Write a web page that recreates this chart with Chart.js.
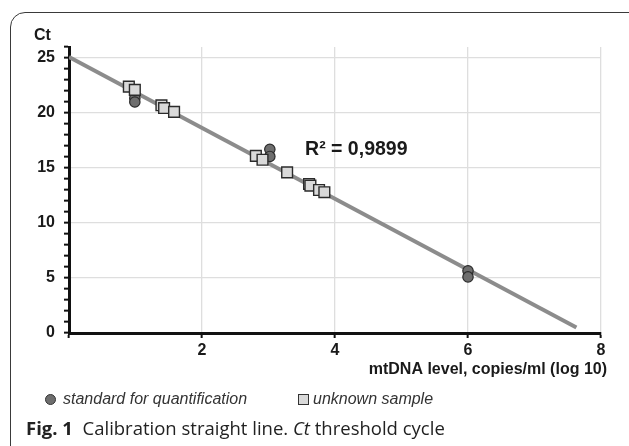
<!DOCTYPE html>
<html><head><meta charset="utf-8">
<script src="https://cdn.jsdelivr.net/npm/chart.js@4"></script>
<style>
html,body{margin:0;padding:0;background:#fff;}
body{width:629px;height:446px;position:relative;overflow:hidden;font-family:"Liberation Sans",Arial,sans-serif;color:#1a1a1a;}
#frame{position:absolute;left:10px;top:12px;width:650px;height:460px;border:1.5px solid #3a3a3a;border-radius:15px;box-sizing:border-box;}
#wrap{position:absolute;left:0;top:0;width:629px;height:446px;}
#ct{position:absolute;left:34px;top:26px;font-weight:bold;font-size:16px;line-height:18px;}
.leg{position:absolute;top:389px;font-style:italic;font-size:16px;line-height:19px;color:#333;}
.mk{position:absolute;top:394px;width:11px;height:11px;box-sizing:border-box;border:1.3px solid #333;}
#caption{position:absolute;left:26px;top:415px;font-family:"Open Sans",sans-serif;font-size:18.5px;line-height:26px;color:#222;white-space:nowrap;}
</style>
</head><body>
<div id="frame"></div>
<div id="wrap"><canvas id="c" width="629" height="446"></canvas></div>
<div id="ct">Ct</div>
<div class="mk" style="left:45px;border-radius:50%;background:#6e6e6e;"></div>
<div class="leg" style="left:63px;">standard for quantification</div>
<div class="mk" style="left:298px;background:#d9d9d9;"></div>
<div class="leg" style="left:313px;">unknown sample</div>
<div id="caption"><b>Fig. 1</b>&nbsp; Calibration straight line. <i>Ct</i> threshold cycle</div>
<script>
// Data
const stdX = [0.99, 0.99, 3.02, 3.02, 6.0, 6.0];
const stdY = [21.35, 21.0, 16.7, 16.05, 5.66, 5.1];
const unkX = [0.90, 0.99, 1.39, 1.43, 1.58, 2.81, 2.91, 3.28, 3.61, 3.63, 3.76, 3.84];
const unkY = [22.4, 22.1, 20.7, 20.45, 20.1, 16.1, 15.75, 14.6, 13.55, 13.4, 13.0, 12.8];
const fitX = [0, 7.63];
const fitY = [25.1, 0.5];
const xTicks = [2, 4, 6, 8];
const yTicks = [0, 5, 10, 15, 20, 25];
const r2Label = 'R\u00B2 = 0,9899';
const xTitle = 'mtDNA level, copies/ml (log 10)';
const r2Pos = {x: 3.55, y: 16.67};

const pts = (xs, ys) => xs.map((v, i) => ({x: v, y: ys[i]}));

const textPlugin = {
  id: 'texts',
  afterDatasetsDraw(chart) {
    const {ctx, chartArea, scales: {x, y}} = chart;
    ctx.save();
    ctx.fillStyle = '#1a1a1a';
    ctx.textBaseline = 'middle';
    ctx.textAlign = 'left';
    ctx.font = 'bold 19.5px "Liberation Sans", Arial, sans-serif';
    ctx.fillText(r2Label, x.getPixelForValue(r2Pos.x), y.getPixelForValue(r2Pos.y));
    ctx.textAlign = 'right';
    ctx.font = 'bold 16px "Liberation Sans", Arial, sans-serif';
    ctx.fillText(xTitle, chartArea.right + 6, chartArea.bottom + 37);
    ctx.restore();
  }
};

const tickFont = {family: '"Liberation Sans", Arial, sans-serif', size: 16, weight: 'bold'};

new Chart(document.getElementById('c'), {
  type: 'scatter',
  data: {
    datasets: [
      {label: 'unknown sample', data: pts(unkX, unkY), pointStyle: 'rect', pointRadius: 7.6,
       backgroundColor: '#d9d9d9', borderColor: '#2b2b2b', borderWidth: 1.4, order: 1},
      {label: 'standard for quantification', data: pts(stdX, stdY), pointStyle: 'circle', pointRadius: 5.2,
       backgroundColor: '#6e6e6e', borderColor: '#2b2b2b', borderWidth: 1.2, order: 2},
      {label: 'fit', data: pts(fitX, fitY), showLine: true, pointRadius: 0, borderColor: '#8c8c8c',
       borderWidth: 4, order: 3}
    ]
  },
  options: {
    responsive: false,
    devicePixelRatio: 1,
    animation: false,
    layout: {padding: {left: 0, top: 47, right: 28, bottom: 53}},
    plugins: {legend: {display: false}, tooltip: {enabled: false}},
    scales: {
      x: {
        type: 'linear', min: 0, max: 8,
        afterFit: s => { s.height = 60; },
        ticks: {stepSize: 2, autoSkip: false, padding: 3, color: '#1a1a1a', font: tickFont,
                callback: v => xTicks.includes(v) ? String(v) : ''},
        grid: {color: c => (c.tick && xTicks.includes(c.tick.value)) ? '#dedede' : 'rgba(0,0,0,0)',
               lineWidth: 1.3, tickColor: '#111', tickLength: 5, tickWidth: 2},
        border: {color: '#111', width: 3},
        title: {display: false}
      },
      y: {
        type: 'linear', min: 0, max: 26,
        afterFit: s => { s.width = 69; },
        ticks: {stepSize: 1, autoSkip: false, padding: 9, color: '#1a1a1a', font: tickFont,
                callback: v => yTicks.includes(v) ? String(v) : ''},
        grid: {color: c => (c.tick && yTicks.includes(c.tick.value) && c.tick.value !== 0) ? '#dedede' : 'rgba(0,0,0,0)',
               lineWidth: 1.3, tickColor: '#111', tickLength: 5, tickWidth: 2},
        border: {color: '#111', width: 3}
      }
    }
  },
  plugins: [textPlugin]
});
</script>
</body></html>
